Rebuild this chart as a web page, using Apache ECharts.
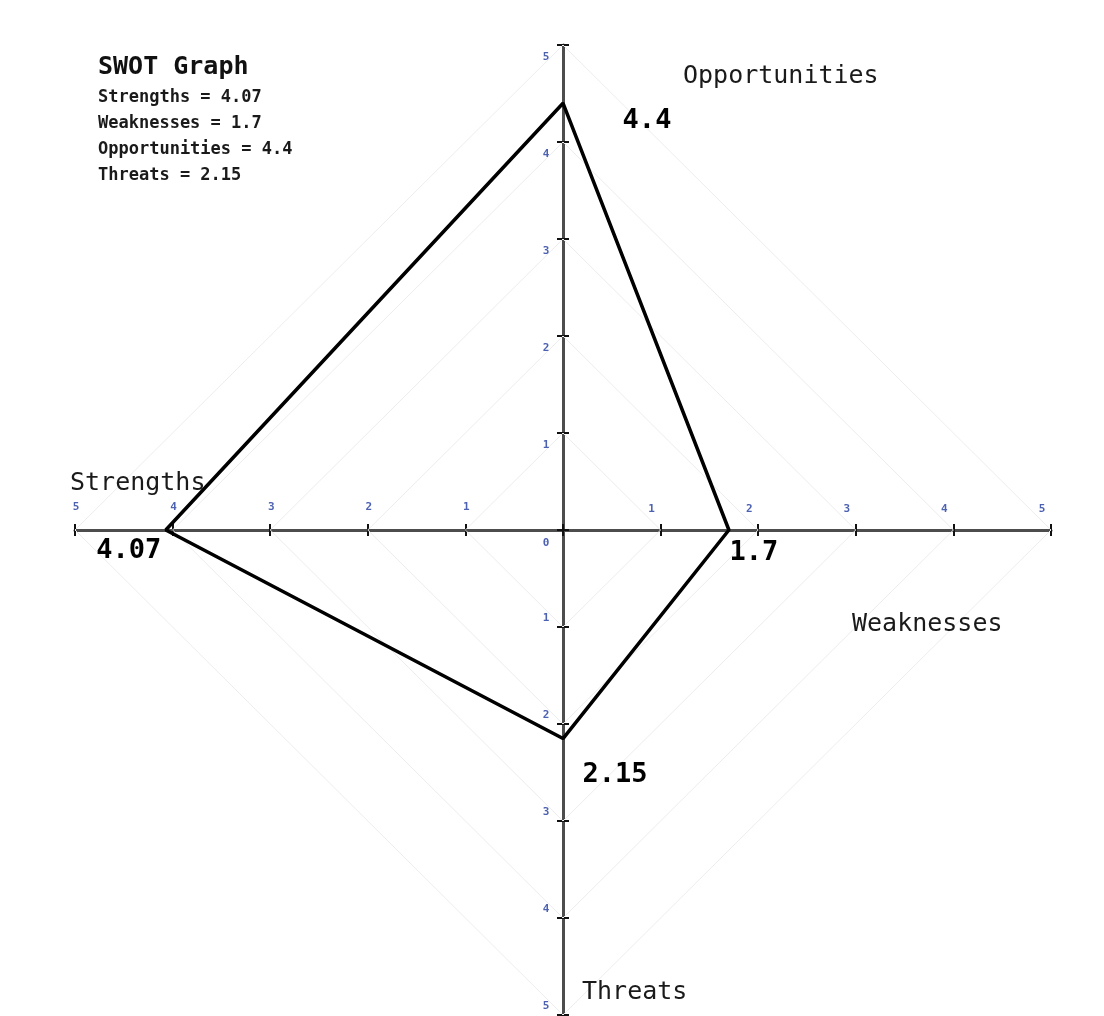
<!DOCTYPE html>
<html>
<head>
<meta charset="utf-8">
<script src="https://cdn.jsdelivr.net/npm/echarts@6/dist/echarts.min.js"></script>
<style>html,body{margin:0;padding:0;background:#fff}#c{width:1104px;height:1016px}</style>
</head>
<body>
<div id="c"></div>
<script>
// ---- data ----
const categories = ['Strengths', 'Weaknesses', 'Opportunities', 'Threats'];
const values = [4.07, 1.7, 4.4, 2.15];
const tickValues = [1, 2, 3, 4, 5];
const chartTitle = 'SWOT Graph';

// ---- layout helpers (directions of each quadrant axis) ----
const dirs = { Strengths: [-1, 0], Weaknesses: [1, 0], Opportunities: [0, 1], Threats: [0, -1] };
const labelOffsets = { Strengths: [-37, 21], Weaknesses: [25, 23], Opportunities: [84, 18], Threats: [52, 36] };
const namePos = { Strengths: [70, 471], Weaknesses: [852, 612], Opportunities: [683, 64], Threats: [582, 980] };

const FONT = '"DejaVu Sans Mono", "Liberation Mono", monospace';

// polygon order: Strengths -> Opportunities -> Weaknesses -> Threats -> Strengths
const order = ['Strengths', 'Opportunities', 'Weaknesses', 'Threats'];
const polyData = order.map(function (name) {
  const v = values[categories.indexOf(name)];
  const d = dirs[name];
  return {
    value: [d[0] * v, d[1] * v],
    label: { show: true, formatter: String(v), offset: labelOffsets[name] }
  };
});
polyData.push({ value: polyData[0].value.slice(), label: { show: false } });

// faint diamond grid built from tick values
const diamondSeries = tickValues.map(function (k) {
  return {
    type: 'line', silent: true, symbol: 'none', z: 1,
    lineStyle: { color: '#ededed', width: 1 },
    data: [[k, 0], [0, k], [-k, 0], [0, -k], [k, 0]]
  };
});

// tick labels placed at the tick values on both cross axes
const tickLabelData = [];
tickValues.forEach(function (k) {
  tickLabelData.push({ value: [k, 0], name: String(k), label: { offset: [-9, -21] } });
  tickLabelData.push({ value: [-k, 0], name: String(k), label: { offset: [1, -23] } });
  tickLabelData.push({ value: [0, k], name: String(k), label: { offset: [-17, 12] } });
  tickLabelData.push({ value: [0, -k], name: String(k), label: { offset: [-17, -9] } });
});
tickLabelData.push({ value: [0, 0], name: '0', label: { offset: [-17, 13] } });

const tickStyle = { show: true, length: 6, lineStyle: { color: '#111', width: 2 } };
const axisBase = {
  type: 'value', min: -5, max: 5, interval: 1,
  splitLine: { show: false },
  axisLabel: { show: false },
  axisLine: { show: true, onZero: true, lineStyle: { color: '#4d4d4d', width: 3 } }
};

const option = {
  animation: false,
  backgroundColor: '#ffffff',
  title: {
    text: chartTitle,
    left: 93, top: 50,
    itemGap: 5,
    textStyle: { fontFamily: FONT, fontSize: 25, fontWeight: 'bold', color: '#111' },
    subtext: categories.map(function (c, i) { return c + ' = ' + values[i]; }).join('\n'),
    subtextStyle: { fontFamily: FONT, fontSize: 17, fontWeight: 'bold', color: '#1a1a1a', lineHeight: 26 }
  },
  grid: { left: 75, right: 53, top: 45, bottom: 1 },
  xAxis: [
    Object.assign({}, axisBase, {
      position: 'bottom',
      axisTick: Object.assign({ inside: false }, tickStyle)
    }),
    Object.assign({}, axisBase, {
      position: 'bottom',
      axisLine: { show: false, onZero: true },
      axisTick: Object.assign({ inside: true }, tickStyle)
    })
  ],
  yAxis: [
    Object.assign({}, axisBase, {
      position: 'left',
      axisTick: Object.assign({ inside: false }, tickStyle)
    }),
    Object.assign({}, axisBase, {
      position: 'left',
      axisLine: { show: false, onZero: true },
      axisTick: Object.assign({ inside: true }, tickStyle)
    })
  ],
  graphic: categories.map(function (c) {
    return {
      type: 'text', left: namePos[c][0], top: namePos[c][1], z: 10,
      style: { text: c, font: '25px ' + FONT, fill: '#1a1a1a' }
    };
  }),
  series: diamondSeries.concat([{
    type: 'scatter',
    silent: true,
    z: 4,
    symbolSize: 1,
    itemStyle: { color: 'transparent' },
    label: {
      show: true, position: 'inside', formatter: '{b}',
      color: '#1f3a9e', fontSize: 11, fontWeight: 'bold', fontFamily: FONT
    },
    data: tickLabelData
  }, {
    type: 'line',
    name: chartTitle,
    z: 5,
    symbol: 'circle', symbolSize: 2,
    itemStyle: { color: '#000' },
    lineStyle: { color: '#000', width: 3.5 },
    label: {
      position: 'inside',
      fontFamily: FONT, fontSize: 27, fontWeight: 'bold', color: '#000'
    },
    data: polyData
  }])
};

const chart = echarts.init(document.getElementById('c'), null, { renderer: 'canvas' });
chart.setOption(option);
</script>
</body>
</html>
